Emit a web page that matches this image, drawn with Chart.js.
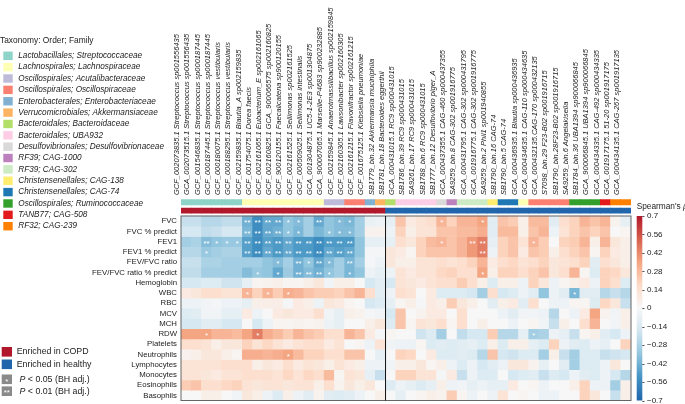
<!DOCTYPE html>
<html>
<head>
<meta charset="utf-8">
<script src="https://cdn.jsdelivr.net/npm/chart.js@4.4.1/dist/chart.umd.min.js"></script>
<style>
  html, body { margin: 0; padding: 0; background: #fff; }
  #wrap { width: 685px; height: 404px; }
</style>
</head>
<body>
<div id="wrap"><canvas id="heat" width="685" height="404"></canvas></div>
<script>
// genomes (columns), left 20 enriched in COPD, right 24 enriched in healthy
const genomes = [
  'GCF_002073835.1 Streptococcus sp001556435', 'GCA_002073515.1 Streptococcus sp001556435',
  'GCF_001546835.1 Streptococcus sp000187445', 'GCF_000187445.1 Streptococcus sp000187445',
  'GCF_000180075.1 Streptococcus vestibularis', 'GCF_000188295.1 Streptococcus vestibularis',
  'GCF_002159835.1 Blautia_A sp002159835', 'GCF_001754075.1 Dorea faecis',
  'GCF_002161065.1 Eubacterium_E sp002161065', 'GCF_002160825.1 GCA_900066575 sp002160825',
  'GCF_900120155.1 Faecalicatena sp900120155', 'GCF_002161525.1 Sellimonas sp002161525',
  'GCF_000509025.1 Sellimonas intestinalis', 'GCA_001304875.1 UC5-1-2E3 sp001304875',
  'GCA_900067065.1 Marseille-P4683 sp900232885', 'GCF_002159845.1 Anaerotmassilibacillus sp002159845',
  'GCF_002160305.1 Lawsonibacter sp002160305', 'GCF_002161215.1 Flavonifractor sp002161215',
  'GCF_001675125.1 Klebsiella pneumoniae', 'SB1779_bin.32 Akkermansia muciniphila',
  'SB1781_bin.18 Bacteroides eggerthii', 'GCA_000431015.1 RC9 sp000431015',
  'SB1786_bin.39 RC9 sp000431015', 'SA9261_bin.17 RC9 sp000431015',
  'SB1788_bin.6 RC9 sp000431015', 'SB1777_bin.12 Desulfovibrio piger_A',
  'GCA_000437355.1 CAG-460 sp000437355', 'SA9259_bin.8 CAG-302 sp001916775',
  'GCA_000431795.1 CAG-302 sp000431795', 'GCA_001916775.1 CAG-302 sp001916775',
  'SA9259_bin.2 Phil1 sp001940855', 'SB1790_bin.16 CAG-74',
  'SB1790_bin.5 CAG-74', 'GCA_000436935.1 Blautia sp000436935',
  'GCA_000434635.1 CAG-110 sp000434635', 'GCA_000432135.CAG-170 sp000432135',
  'S7098_bin.29 F23-B02 sp001916715', 'SB1790_bin.28F23-B02 sp001916715',
  'SA9259_bin.6 Angelakisella', 'SB1784_bin.36 UBA1394 sp900066845',
  'GCA_900066845.1 UBA1394 sp900066845', 'GCA_000434335.1 CAG-492 sp000434335',
  'GCA_001917175.1 51-20 sp001917175', 'GCA_000434135.1 CAG-267 sp001917135'
];

const families = [
  'Lactobacillales; Streptococcaceae', 'Lachnospirales; Lachnospiraceae',
  'Oscillospirales; Acutalibacteraceae', 'Oscillospirales; Oscillospiraceae',
  'Enterobacterales; Enterobacteriaceae', 'Verrucomicrobiales; Akkermansiaceae',
  'Bacteroidales; Bacteroidaceae', 'Bacteroidales; UBA932',
  'Desulfovibrionales; Desulfovibrionaceae', 'RF39; CAG-1000', 'RF39; CAG-302',
  'Christensenellales; CAG-138', 'Christensenellales; CAG-74',
  'Oscillospirales; Ruminococcaceae', 'TANB77; CAG-508', 'RF32; CAG-239'
];
// family index of each genome
const familyOf = [0,0,0,0,0,0, 1,1,1,1,1,1,1,1, 2,2, 3,3, 4, 5,
                  6, 7,7,7,7, 8, 9, 10,10,10, 11, 12,12, 1, 3,3,3,3, 13,13,13, 14, 15,15];
const enrichedIn = genomes.map((g, i) => (i < 20 ? 'COPD' : 'healthy'));

const clinical = ['FVC', 'FVC % predict', 'FEV1', 'FEV1 % predict', 'FEV/FVC ratio',
  'FEV/FVC ratio % predict', 'Hemoglobin', 'WBC', 'RBC', 'MCV', 'MCH', 'RDW', 'Platelets',
  'Neutrophils', 'Lymphocytes', 'Monocytes', 'Eosinophils', 'Basophils'];

// Spearman's rho, one array per clinical variable (44 genomes each)
const rhoFVC      = [-0.2,-0.2,-0.25,-0.25,-0.22,-0.22,-0.42,-0.55,-0.45,-0.45,-0.35,-0.38,-0.3,-0.45,-0.35,-0.38,-0.4,-0.3,-0.06,-0.05, -0.08,0.25,0.08,0.12,0.15,0.3,0.2,0.3,0.3,0.35,-0.1,0.25,0.22,0.05,0.28,0.28,-0.1,0.15,0.2,0.3,0.25,0.3,0.03,-0.08];
const rhoFVCpred  = [-0.15,-0.15,-0.22,-0.2,-0.15,-0.15,-0.4,-0.55,-0.45,-0.42,-0.35,-0.4,-0.3,-0.4,-0.35,-0.38,-0.38,-0.3,0.03,0.03, -0.05,0.2,0.05,0.12,0.12,0.25,0.25,0.28,0.28,0.32,-0.1,0.28,0.28,0.05,0.25,0.3,-0.05,0.12,0.2,0.25,0.2,0.25,0,0.02];
const rhoFEV1     = [-0.3,-0.28,-0.38,-0.35,-0.33,-0.33,-0.48,-0.55,-0.48,-0.5,-0.45,-0.5,-0.5,-0.55,-0.5,-0.5,-0.5,-0.35,-0.08,-0.08, -0.08,0.15,0.1,0.2,0.28,0.3,0.25,0.3,0.38,0.45,-0.08,0.2,0.25,0.12,0.3,0.22,0,0.2,0.22,0.3,0.05,0.3,0.1,0.05];
const rhoFEV1pred = [-0.25,-0.25,-0.33,-0.3,-0.28,-0.28,-0.48,-0.55,-0.45,-0.5,-0.45,-0.5,-0.5,-0.55,-0.45,-0.48,-0.45,-0.35,-0.02,-0.02, 0.1,0.08,0.02,0.2,0.25,0.25,0.25,0.3,0.38,0.45,-0.05,0.2,0.25,0.08,0.25,0.22,0.05,0.15,0.2,0.25,0.02,0.2,0.08,0.05];
const rhoRatio    = [-0.2,-0.2,-0.28,-0.28,-0.3,-0.3,-0.3,-0.3,-0.35,-0.38,-0.3,-0.42,-0.35,-0.45,-0.38,-0.3,-0.4,-0.3,-0.02,-0.05, 0.1,0.05,0.05,0.12,0.12,0.15,0.12,0.15,0.2,0.3,0.08,0.15,0.18,0.12,0.15,0.2,0.1,0.12,0.15,0.2,-0.1,0.15,0.1,0.05];
const rhoRatioPred= [-0.22,-0.22,-0.3,-0.3,-0.3,-0.3,-0.38,-0.33,-0.35,-0.45,-0.32,-0.42,-0.38,-0.42,-0.35,-0.3,-0.4,-0.35,-0.05,-0.08, -0.05,0.12,0.08,0.12,0.12,0.18,0.2,0.15,0.15,0.35,0.05,0.2,0.2,0.15,0.2,0.25,0.1,0.15,0.3,0.02,-0.12,0.2,0.18,0.1];
const rhoHb       = [-0.15,-0.15,-0.12,-0.12,-0.18,-0.18,-0.08,0.02,0.03,0.05,0.02,0.02,0.05,0.1,-0.03,0.05,0.05,0,-0.15,-0.1, -0.15,0.12,0.1,0.08,0.12,0.15,0.15,0.22,0.15,0.05,-0.12,0.05,0.05,-0.05,0.2,0.1,-0.05,0.02,0.05,0.08,-0.05,0.2,0.15,-0.12];
const rhoWBC      = [0.08,0.1,0.15,0.15,0.12,0.12,0.3,0.2,0.3,0.22,0.32,0.3,0.25,0.22,0.22,0.2,0.25,0.3,0.15,-0.1, -0.05,0.15,0.12,0,0.08,-0.12,-0.12,-0.12,-0.15,-0.3,0.15,-0.15,-0.12,-0.05,-0.1,-0.35,-0.05,-0.1,-0.4,-0.1,-0.1,-0.25,-0.2,-0.25];
const rhoRBC      = [-0.05,-0.05,-0.03,-0.02,-0.05,-0.05,-0.08,0.05,0.06,0.06,-0.02,0.08,0.05,-0.05,0.1,0.08,0.02,0,-0.15,-0.12, -0.08,0.02,0.05,-0.02,0.08,0.05,0.22,0.1,0.05,0,-0.1,0.05,0.08,-0.1,0.15,0,-0.05,-0.05,0.02,0.02,-0.12,0.18,0.1,-0.2];
const rhoMCV      = [-0.12,-0.1,-0.03,-0.03,-0.08,-0.08,0.08,-0.05,0,0.08,0.1,0.08,0.08,0.15,-0.03,-0.08,0.05,0.03,-0.02,-0.03, -0.15,0.25,0,0.03,0.08,0.08,0,0.15,0,0,0,-0.05,-0.1,-0.03,-0.03,-0.05,-0.25,0,-0.05,0.08,0.35,0.03,-0.03,0.05];
const rhoMCH      = [-0.15,-0.15,-0.1,-0.1,-0.15,-0.15,0,-0.15,-0.05,0.02,0.02,0.03,0.02,0.03,-0.05,-0.08,0,0,0.05,0.1, -0.12,0.25,0.02,0.12,0.1,0.15,0.02,0.15,0,0.05,0,0,-0.05,0,0.02,-0.03,-0.2,0.05,0,0.15,0.3,0,-0.03,0.05];
const rhoRDW      = [0.35,0.35,0.35,0.3,0.3,0.28,0.35,0.45,0.32,0.28,0.22,0.3,0.25,0.22,0.15,0.15,0.3,0.25,0.08,-0.02, 0.02,0,0,-0.18,-0.12,-0.3,0,-0.22,-0.15,-0.15,0.22,-0.25,-0.25,-0.08,-0.3,-0.28,-0.05,-0.08,-0.2,0.02,0.05,-0.1,-0.15,-0.05];
const rhoPlt      = [0.15,0.15,0.12,0.05,0.1,0.1,0.2,0.12,0.18,0.12,0.08,0.12,0.15,0.15,0.08,0.12,0,0.02,-0.05,0.12, -0.03,-0.05,-0.05,0.02,-0.12,-0.1,-0.12,-0.1,-0.08,-0.12,0.05,-0.12,0.05,0.05,-0.08,-0.12,0.2,-0.05,-0.1,-0.12,-0.05,-0.08,0,0.2];
const rhoNeut     = [0.03,0.05,0.1,0.1,0.05,0.02,0.32,0.32,0.3,0.32,0.35,0.28,0.2,0.2,0.15,0.15,0.25,0.25,0,-0.08, 0,0.2,0.18,0,0.08,-0.12,-0.12,-0.1,-0.12,-0.25,0.25,-0.15,-0.18,-0.12,-0.12,-0.3,0.05,-0.2,-0.3,-0.12,-0.12,-0.2,-0.18,-0.15];
const rhoLymph    = [0.12,0.12,0.12,0.12,0.15,0.15,0.15,0.05,0.1,0.08,0.15,0.08,0.12,0.1,0.05,0.12,0.08,0.05,-0.05,-0.05, -0.03,0.05,0.05,0.1,0.02,0.05,-0.05,-0.12,-0.05,-0.15,-0.1,-0.05,0.1,0.1,0.03,-0.08,0,-0.1,-0.3,-0.12,-0.12,-0.05,0.1,0];
const rhoMono     = [0.12,0.12,0.1,0.08,0.12,0.12,0.15,0.15,0.15,0.12,0.18,0.12,0.18,0.15,0.28,0.02,0.12,0.1,-0.08,-0.2, 0,0.2,0.2,0.12,0.12,-0.02,0.08,-0.2,-0.05,-0.12,-0.12,0,-0.15,-0.12,-0.1,-0.2,-0.12,-0.15,-0.05,-0.1,-0.12,-0.05,-0.15,-0.25];
const rhoEos      = [0.22,0.25,0.15,0.15,0.18,0.2,0.12,0.1,0.12,0.12,0.1,0.12,0.12,0.05,0.15,0.03,0.1,0.05,0.1,0, -0.12,-0.05,-0.08,-0.12,-0.08,0.05,-0.05,-0.03,-0.08,-0.05,-0.08,-0.08,0.08,0,0.02,-0.05,0,0,0.05,0.2,-0.05,-0.05,-0.3,0.05];
const rhoBaso     = [0,0,0.05,0.05,0,-0.03,0.1,0.05,-0.05,-0.12,0.05,-0.05,-0.1,0.03,-0.1,-0.12,-0.1,-0.05,0,0.05, 0,-0.08,0,0.02,0.05,0.03,0.22,0.02,-0.05,0,-0.05,0.12,0,0.02,0,-0.05,-0.05,0,0,0.2,0.1,0,-0.2,0.05];

// significance marks: [genome index, 1 = P<0.05, 2 = P<0.01]
const sigFVC       = [[6,2],[7,2],[8,2],[9,2],[10,1],[11,1],[13,2],[15,1],[16,1],[25,1],[29,1]];
const sigFVCpred   = [[6,2],[7,2],[8,2],[9,2],[10,1],[11,1],[14,1],[15,1],[16,1]];
const sigFEV1      = [[2,2],[3,1],[4,1],[5,1],[6,2],[7,2],[8,2],[9,2],[10,2],[11,2],[12,2],[13,2],[14,2],[15,2],[16,2],[25,1],[28,2],[29,2],[34,1]];
const sigFEV1pred  = [[2,1],[6,2],[7,2],[8,2],[9,2],[10,2],[11,2],[12,2],[13,2],[14,2],[15,2],[16,2],[29,2]];
const sigRatio     = [[9,1],[11,2],[12,1],[13,2],[14,1],[16,2]];
const sigRatioPred = [[7,1],[9,1],[11,2],[12,2],[13,2],[14,1],[16,1],[29,1]];
const sigWBC       = [[6,1],[8,1],[10,1],[38,1]];
const sigRDW       = [[2,1],[7,1],[34,1]];
const sigNeut      = [[10,1]];

const rhoRows = [rhoFVC, rhoFVCpred, rhoFEV1, rhoFEV1pred, rhoRatio, rhoRatioPred, rhoHb, rhoWBC,
  rhoRBC, rhoMCV, rhoMCH, rhoRDW, rhoPlt, rhoNeut, rhoLymph, rhoMono, rhoEos, rhoBaso];
const sigRows = [sigFVC, sigFVCpred, sigFEV1, sigFEV1pred, sigRatio, sigRatioPred, [], sigWBC,
  [], [], [], sigRDW, [], sigNeut, [], [], [], []];

const rhoTicks = [0.7, 0.56, 0.42, 0.28, 0.14, 0, -0.14, -0.28, -0.42, -0.56, -0.7];

// styles
const FONT = '"Liberation Sans", Arial, Helvetica, sans-serif';
const famColors = ['#8dd3c7', '#ffffb3', '#bebada', '#fb8072', '#80b1d3', '#fdb462', '#b3de69', '#fccde5',
  '#d9d9d9', '#bc80bd', '#ccebc5', '#ffed6f', '#1f78b4', '#33a02c', '#e31a1c', '#ff7f00'];
const groupColors = { COPD: '#b2182b', healthy: '#2166ac' };
// RdBu, dark ends trimmed, spread over -0.7 .. 0.7
const rdbu = [[-0.7, [33, 102, 172]], [-0.525, [67, 147, 195]], [-0.35, [146, 197, 222]],
  [-0.175, [209, 229, 240]], [0, [247, 247, 247]], [0.175, [253, 219, 199]],
  [0.35, [244, 165, 130]], [0.525, [214, 96, 77]], [0.7, [178, 24, 43]]];

function rhoColor(v) {
  const t = Math.max(-0.7, Math.min(0.7, v));
  for (let i = 1; i < rdbu.length; i++) {
    if (t <= rdbu[i][0]) {
      const [a, ca] = rdbu[i - 1];
      const [b, cb] = rdbu[i];
      const f = (t - a) / (b - a);
      const c = ca.map((x, k) => Math.round(x + (cb[k] - x) * f));
      return `rgb(${c[0]},${c[1]},${c[2]})`;
    }
  }
  return 'rgb(178,24,43)';
}

const TOP = -1.65; // room above the heatmap for the two annotation strips
const rowSpan = (a, b) => genomes.map(() => [a, b]);

const datasets = rhoRows.map((vals, r) => ({
  label: clinical[r],
  data: rowSpan(r, r + 1),
  backgroundColor: vals.map(rhoColor),
}));
datasets.push({ label: 'taxonomy', data: rowSpan(-1.61, -1.09), backgroundColor: familyOf.map(f => famColors[f]) });
datasets.push({ label: 'enriched', data: rowSpan(-0.78, -0.27), backgroundColor: enrichedIn.map(g => groupColors[g]) });

const fmtRho = v => (v === 0 ? '0' : (v < 0 ? '\u2212' : '') + Math.abs(v).toFixed(2).replace(/0$/, ''));

const extras = {
  id: 'extras',
  afterDatasetsDraw(chart) {
    const { ctx, scales: { x, y, y2 } } = chart;
    const top = y.getPixelForValue(0);
    const bot = y.getPixelForValue(18);
    ctx.save();

    // significance stars
    ctx.fillStyle = '#fff';
    ctx.font = `8px ${FONT}`;
    ctx.textAlign = 'center';
    ctx.textBaseline = 'middle';
    sigRows.forEach((sig, r) => {
      const meta = chart.getDatasetMeta(r);
      sig.forEach(([c, lvl]) => {
        const bar = meta.data[c];
        ctx.fillText(lvl === 2 ? '**' : '*', bar.x, (bar.y + bar.base) / 2 + 2);
      });
    });

    // frame and COPD | healthy divider
    ctx.strokeStyle = '#666';
    ctx.lineWidth = 1;
    ctx.strokeRect(x.left, top, x.right - x.left, bot - top);
    const split = (x.getPixelForValue(19) + x.getPixelForValue(20)) / 2;
    ctx.strokeStyle = '#111';
    ctx.beginPath();
    ctx.moveTo(split, top);
    ctx.lineTo(split, bot);
    ctx.stroke();

    // colour bar
    const cTop = y2.getPixelForValue(0.7);
    const cBot = y2.getPixelForValue(-0.7);
    const grad = ctx.createLinearGradient(0, cTop, 0, cBot);
    rdbu.forEach(([v, c]) => grad.addColorStop((0.7 - v) / 1.4, `rgb(${c[0]},${c[1]},${c[2]})`));
    ctx.fillStyle = grad;
    const cx = x.right + 5.7;
    ctx.fillRect(cx, cTop, 5.6, cBot - cTop);
    ctx.strokeStyle = '#555';
    rhoTicks.forEach(v => {
      const py = Math.round(y2.getPixelForValue(v)) + 0.5;
      ctx.beginPath();
      ctx.moveTo(cx + 5.6, py);
      ctx.lineTo(cx + 7.8, py);
      ctx.stroke();
    });
    ctx.fillStyle = '#222';
    ctx.textAlign = 'left';
    ctx.font = `8.3px ${FONT}`;
    const title = "Spearman's ";
    ctx.fillText(title, cx, top - 9);
    const tw = ctx.measureText(title).width;
    ctx.font = `italic 8.3px ${FONT}`;
    ctx.fillText('\u03c1', cx + tw, top - 9);

    // taxonomy legend
    ctx.font = `8.4px ${FONT}`;
    ctx.fillText('Taxonomy: Order; Family', 0, 41);
    ctx.font = `italic 8.2px ${FONT}`;
    families.forEach((name, i) => {
      const yy = 55.8 + 11.36 * i;
      ctx.fillStyle = famColors[i];
      ctx.fillRect(3.3, yy - 4.2, 9.4, 8.4);
      ctx.fillStyle = '#222';
      ctx.fillText(name, 18.3, yy);
    });

    // group / significance legend
    const box = (yy, color) => { ctx.fillStyle = color; ctx.fillRect(1.7, yy - 4.8, 10.3, 9.6); };
    ctx.font = `8.8px ${FONT}`;
    box(351.8, groupColors.COPD);
    ctx.fillStyle = '#222';
    ctx.fillText('Enriched in COPD', 16.7, 351.8);
    box(364.3, groupColors.healthy);
    ctx.fillStyle = '#222';
    ctx.fillText('Enriched in healthy', 16.7, 364.3);
    [[379.3, '*', '0.05'], [391.2, '**', '0.01']].forEach(([yy, mark, p]) => {
      box(yy, '#8a8a8a');
      ctx.fillStyle = '#fff';
      ctx.textAlign = 'center';
      ctx.font = `8px ${FONT}`;
      ctx.fillText(mark, 6.85, yy + 2);
      ctx.textAlign = 'left';
      ctx.fillStyle = '#222';
      ctx.font = `italic 8.8px ${FONT}`;
      ctx.fillText('P', 19.5, yy);
      const pw = ctx.measureText('P').width;
      ctx.font = `8.8px ${FONT}`;
      ctx.fillText(` < ${p} (BH adj.)`, 19.5 + pw, yy);
    });
    ctx.restore();
  }
};

new Chart(document.getElementById('heat'), {
  type: 'bar',
  data: { labels: genomes, datasets },
  options: {
    responsive: false,
    animation: false,
    events: [],
    layout: { padding: { left: 0, right: 0, top: 0, bottom: 3.5 } },
    datasets: {
      bar: { grouped: false, barPercentage: 1, categoryPercentage: 1, borderWidth: 0 }
    },
    plugins: { legend: { display: false }, tooltip: { enabled: false } },
    scales: {
      x: {
        type: 'category',
        position: 'top',
        grid: { display: false, drawTicks: false },
        border: { display: false },
        ticks: {
          autoSkip: false, minRotation: 90, maxRotation: 90, padding: 4,
          color: '#222', font: { family: FONT, size: 7.5, style: 'italic' }
        },
        afterFit(s) { s.height = 199.1; s.paddingLeft = 0; s.paddingRight = 0; }
      },
      y: {
        type: 'linear',
        position: 'left',
        reverse: true,
        min: TOP,
        max: 18,
        grid: { display: false, drawTicks: false },
        border: { display: false },
        ticks: {
          autoSkip: false, padding: 4, color: '#222',
          font: { family: FONT, size: 7.8 },
          callback: v => clinical[Math.round(v - 0.5)]
        },
        afterBuildTicks(s) { s.ticks = clinical.map((_, i) => ({ value: i + 0.5 })); },
        afterFit(s) { s.width = 181; s.paddingTop = 0; s.paddingBottom = 0; }
      },
      y2: {
        type: 'linear',
        position: 'right',
        min: -0.7,
        max: 0.7 + (-TOP) * 1.4 / 18,
        grid: { display: false, drawTicks: false },
        border: { display: false },
        ticks: {
          autoSkip: false, padding: 16, color: '#222',
          font: { family: FONT, size: 8 },
          callback: v => fmtRho(v)
        },
        afterBuildTicks(s) { s.ticks = rhoTicks.map(v => ({ value: v })); },
        afterFit(s) { s.width = 54; s.paddingTop = 0; s.paddingBottom = 0; }
      }
    }
  },
  plugins: [extras]
});
</script>
</body>
</html>
